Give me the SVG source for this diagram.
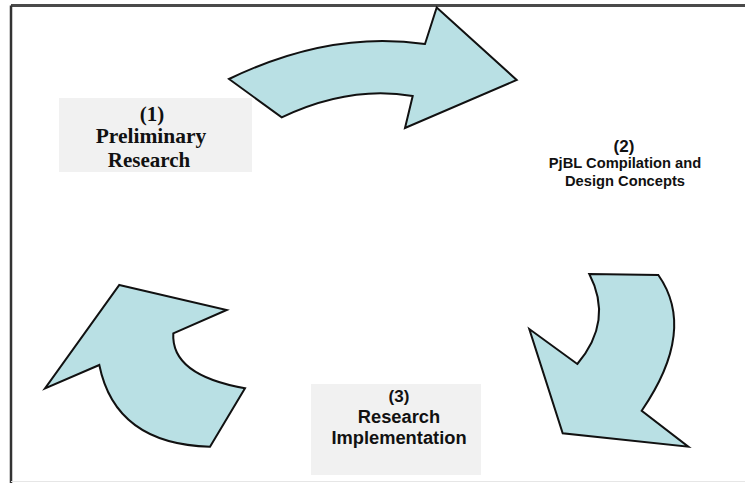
<svg xmlns="http://www.w3.org/2000/svg" width="745" height="483" viewBox="0 0 745 483">
<defs>
<style>
.arrow{fill:#b9e0e4;stroke:#111;stroke-width:2;stroke-linejoin:miter}
.box{fill:#f1f1f1}
.sans{font-family:"Liberation Sans",Arial,sans-serif;font-weight:bold;fill:#111;text-anchor:middle}
.serif{font-family:"Liberation Serif","Times New Roman",serif;font-weight:bold;fill:#111;text-anchor:middle}
</style>
</defs>
<rect width="745" height="483" fill="#fff"/>
<g id="frame">
<line x1="11" y1="5.5" x2="745" y2="5.5" stroke="#4a4a4a" stroke-width="3"/>
<line x1="11" y1="5.5" x2="11" y2="483" stroke="#333" stroke-width="2.5"/>
<line x1="11" y1="481.5" x2="745" y2="481.5" stroke="#e6e6e6" stroke-width="1"/>
</g>
<g id="connectors">
<path class="arrow" d="M229,79 Q330,30 425,44 L436.7,7.5 L516.7,80 L405,128 L412.7,96 Q350,85 281.7,117.3 Z"/>
<path class="arrow" d="M589.3,274 L658.3,275 Q697,330 641.7,410.7 L688.3,446.7 L562.7,433.3 L529.3,329 L577.3,364 Q613.7,321 589.3,274 Z"/>
<path class="arrow" d="M119.3,285 L226.7,310 L173.3,333.3 Q170.8,375.2 245,388.3 L210,446.7 Q115.4,444.2 99.3,365 L45,388.3 Z"/>
</g>
<g id="node1">
<rect class="box" x="59" y="98" width="193" height="74"/>
<text class="serif" x="152" y="121" font-size="21">(1)</text>
<text class="serif" x="151" y="143" font-size="21.5">Preliminary</text>
<text class="serif" x="149" y="167" font-size="21">Research</text>
</g>
<g id="node2">
<text class="sans" x="624" y="152" font-size="17">(2)</text>
<text class="sans" x="625" y="167.5" font-size="14.7">PjBL Compilation and</text>
<text class="sans" x="625" y="185.5" font-size="14.7">Design Concepts</text>
</g>
<g id="node3">
<rect class="box" x="311" y="384" width="170" height="91"/>
<text class="sans" x="399" y="402" font-size="17">(3)</text>
<text class="sans" x="399" y="423" font-size="18.3">Research</text>
<text class="sans" x="399" y="443.5" font-size="18.3">Implementation</text>
</g>
</svg>
